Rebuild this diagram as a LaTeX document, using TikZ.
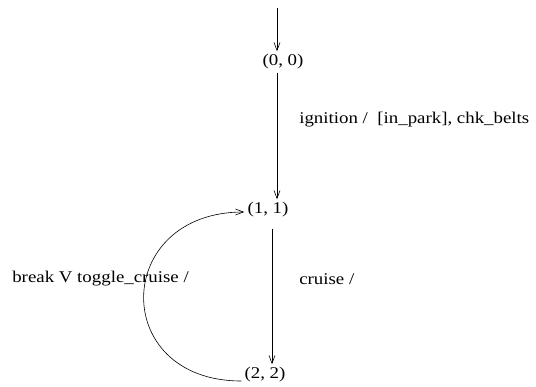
\documentclass[tikz,border=0pt]{standalone}
\usepackage{fontspec}
\setmainfont{Liberation Serif}[FakeStretch=1.15]
\usepackage{tikz}
\usetikzlibrary{arrows.meta}

\begin{document}
\begin{tikzpicture}[
      x=1pt, y=1pt,
      font=\fontsize{16.4}{19}\selectfont,
      state/.style={inner sep=3pt},
      lbl/.style={anchor=west, inner sep=0pt},
      >={Straight Barb[length=8pt, width=6pt]},
      every path/.style={line width=0.6pt},
    ]
    \useasboundingbox (0,0) rectangle (536,-386);
    \coordinate (start) at (277,-8);
    \node[state] (S0) at (283,-62) {(0, 0)};
    \node[state] (S1) at (268,-210) {(1, 1)};
    \node[state] (S2) at (265,-375) {(2, 2)};
    \draw[->] (start) -- ([xshift=-6pt]S0.north);
    \draw[->] ([xshift=-6pt]S0.south) -- ([xshift=9pt]S1.north);
    \draw[->] ([xshift=4pt,yshift=-8pt]S1.south) -- ([xshift=7pt]S2.north);
    \draw[->] ([yshift=-6pt]S2.west) .. controls +(-132,0) and +(-132,0) .. ([yshift=-2pt]S1.west);
    \node[lbl] (L01) at (299,-120) {ignition /\ \ [in\_park], chk\_belts};
    \node[lbl] (L12) at (299,-279) {cruise /};
    \node[lbl] (L21) at (12,-279) {break V toggle\_cruise /};
  \end{tikzpicture}
\end{document}
